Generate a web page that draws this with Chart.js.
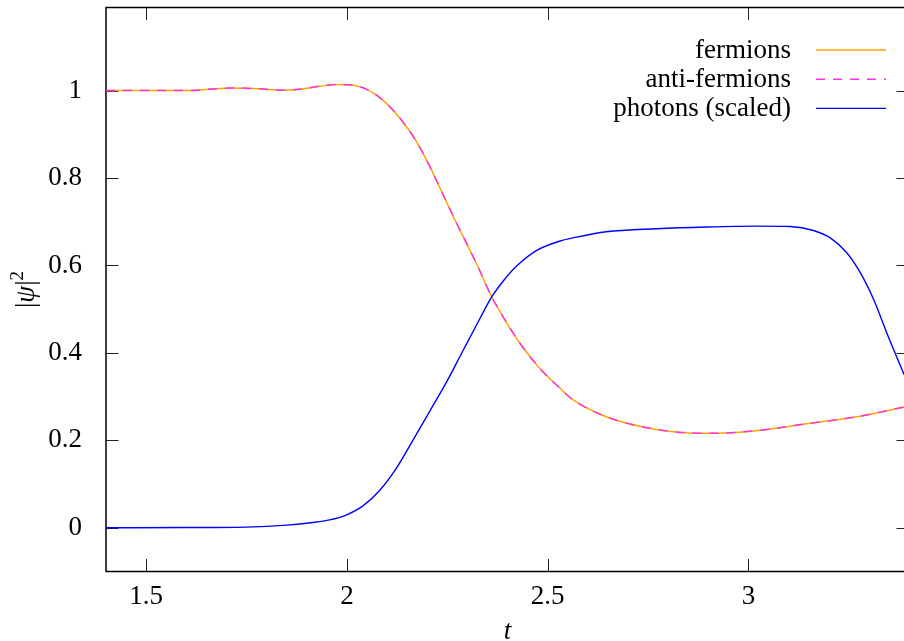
<!DOCTYPE html>
<html>
<head>
<meta charset="utf-8">
<script src="https://cdn.jsdelivr.net/npm/chart.js@4.4.1/dist/chart.umd.min.js"></script>
<style>
html, body { margin: 0; padding: 0; background: #fff; overflow: hidden; }
#wrap { width: 912px; height: 641px; }
</style>
</head>
<body>
<div id="wrap"><canvas id="chart_psi" width="912" height="641"></canvas></div>
<script>
// values
var tFermions = [1.40, 1.50, 1.61, 1.657, 1.715, 1.78, 1.84, 1.882, 1.932, 1.982, 2.032, 2.082, 2.131, 2.173, 2.206, 2.265, 2.306, 2.331, 2.358, 2.392, 2.431, 2.48, 2.531, 2.563, 2.646, 2.771, 2.896, 3.02, 3.145, 3.27, 3.388];
var fermions = [1.000, 1.000, 1.000, 1.003, 1.006, 1.004, 1.001, 1.003, 1.010, 1.014, 1.009, 0.984, 0.938, 0.884, 0.827, 0.712, 0.636, 0.588, 0.533, 0.478, 0.422, 0.365, 0.319, 0.293, 0.254, 0.225, 0.216, 0.222, 0.238, 0.254, 0.276];
var antiFermions = [1.000, 1.000, 1.000, 1.003, 1.006, 1.004, 1.001, 1.003, 1.010, 1.014, 1.009, 0.984, 0.938, 0.884, 0.827, 0.712, 0.636, 0.588, 0.533, 0.478, 0.422, 0.365, 0.319, 0.293, 0.254, 0.225, 0.216, 0.222, 0.238, 0.254, 0.276];

var tPhotons = [1.40, 1.60, 1.749, 1.85, 1.915, 1.957, 1.998, 2.04, 2.082, 2.123, 2.165, 2.206, 2.248, 2.289, 2.331, 2.36, 2.39, 2.422, 2.472, 2.531, 2.563, 2.646, 2.771, 2.896, 3.02, 3.104, 3.162, 3.204, 3.245, 3.279, 3.312, 3.345, 3.388];
var photons = [0.000, 0.0005, 0.0016, 0.006, 0.012, 0.018, 0.029, 0.050, 0.086, 0.136, 0.201, 0.266, 0.333, 0.405, 0.478, 0.527, 0.565, 0.598, 0.634, 0.656, 0.663, 0.677, 0.684, 0.688, 0.690, 0.689, 0.680, 0.663, 0.629, 0.583, 0.522, 0.445, 0.350];

var xTicks = [1.5, 2, 2.5, 3];
var yTicks = [0, 0.2, 0.4, 0.6, 0.8, 1];
var seriesLabels = ['fermions', 'anti-fermions', 'photons (scaled)'];

function pairs(xs, ys) {
    return xs.map(function (x, i) { return { x: x, y: ys[i] }; });
}

Chart.defaults.font.family = '"Liberation Serif", serif';
Chart.defaults.font.size = 27;
Chart.defaults.color = '#000';

// gnuplot-like frame with inward ticks, key and y label
var gnuplotFrame = {
    id: 'gnuplotFrame',
    beforeDatasetsDraw: function (chart) {
        var ctx = chart.ctx, a = chart.chartArea;
        var xs = chart.scales.x, ys = chart.scales.y;
        var len = 12.5;
        ctx.save();
        ctx.strokeStyle = '#222';
        ctx.lineWidth = 1;
        ctx.beginPath();
        xTicks.forEach(function (v) {
            var px = Math.round(xs.getPixelForValue(v)) + 0.5;
            ctx.moveTo(px, a.bottom); ctx.lineTo(px, a.bottom - len);
            ctx.moveTo(px, a.top); ctx.lineTo(px, a.top + len);
        });
        yTicks.forEach(function (v) {
            var py = Math.round(ys.getPixelForValue(v)) + 0.5;
            ctx.moveTo(a.left, py); ctx.lineTo(a.left + len, py);
            ctx.moveTo(a.right, py); ctx.lineTo(a.right - len, py);
        });
        ctx.stroke();
        ctx.strokeStyle = '#000';
        ctx.lineWidth = 1.5;
        ctx.strokeRect(a.left, a.top, a.right - a.left, a.bottom - a.top);
        ctx.restore();
    },
    afterDraw: function (chart) {
        var ctx = chart.ctx, a = chart.chartArea;
        ctx.save();
        // key
        ctx.font = '27px "Liberation Serif", serif';
        ctx.textAlign = 'right';
        ctx.textBaseline = 'alphabetic';
        chart.data.datasets.forEach(function (ds, i) {
            var y = 50 + i * 29.2;
            ctx.fillStyle = '#000';
            ctx.fillText(ds.label, 791, y + 8);
            ctx.beginPath();
            ctx.strokeStyle = ds.borderColor;
            ctx.lineWidth = ds.borderWidth;
            ctx.setLineDash(ds.borderDash || []);
            ctx.moveTo(816, y);
            ctx.lineTo(886, y);
            ctx.stroke();
            ctx.setLineDash([]);
        });
        // y axis label |psi|^2
        var parts = [
            { t: '|', f: '27px "Liberation Serif", serif', dy: 0 },
            { t: 'ψ', f: 'italic 27px "Liberation Serif", serif', dy: 0 },
            { t: '|', f: '27px "Liberation Serif", serif', dy: 0 },
            { t: '2', f: '19px "Liberation Serif", serif', dy: -11 }
        ];
        var total = 0;
        parts.forEach(function (p) { ctx.font = p.f; p.w = ctx.measureText(p.t).width; total += p.w; });
        ctx.translate(34, (a.top + a.bottom) / 2);
        ctx.rotate(-Math.PI / 2);
        ctx.textAlign = 'left';
        ctx.fillStyle = '#000';
        var x = -total / 2;
        parts.forEach(function (p) {
            ctx.font = p.f;
            ctx.fillText(p.t, x, p.dy);
            x += p.w;
        });
        ctx.restore();
    }
};

var chart_psi = new Chart(document.getElementById('chart_psi'), {
    type: 'line',
    data: {
        datasets: [
            {
                label: seriesLabels[0],
                data: pairs(tFermions, fermions),
                borderColor: '#ffa500',
                borderWidth: 1.5,
                order: 2
            },
            {
                label: seriesLabels[1],
                data: pairs(tFermions, antiFermions),
                borderColor: '#ff33dd',
                borderWidth: 1.5,
                borderDash: [9, 8],
                order: 1
            },
            {
                label: seriesLabels[2],
                data: pairs(tPhotons, photons),
                borderColor: '#0000ff',
                borderWidth: 1.4,
                order: 0
            }
        ]
    },
    options: {
        animation: false,
        responsive: false,
        devicePixelRatio: 1,
        elements: {
            point: { radius: 0 },
            line: { cubicInterpolationMode: 'monotone', fill: false }
        },
        layout: { padding: { top: 7.5, right: 3, left: 0, bottom: 0 } },
        plugins: {
            legend: { display: false },
            tooltip: { enabled: false },
            title: { display: false }
        },
        scales: {
            x: {
                type: 'linear',
                min: 1.4,
                max: 3.4,
                afterBuildTicks: function (scale) {
                    scale.ticks = xTicks.map(function (v) { return { value: v }; });
                },
                afterFit: function (scale) {
                    scale.height = 69.5;
                    scale.paddingLeft = 0;
                    scale.paddingRight = 0;
                },
                grid: { display: false, drawTicks: false, tickLength: 0 },
                border: { display: false },
                ticks: {
                    padding: 9, maxRotation: 0, autoSkip: false,
                    callback: function (v) { return String(v); }
                },
                title: {
                    display: true,
                    text: 't',
                    font: { size: 27, style: 'italic' },
                    padding: { top: 0, bottom: -7 }
                }
            },
            y: {
                type: 'linear',
                min: -0.1,
                max: 1.19,
                afterBuildTicks: function (scale) {
                    scale.ticks = yTicks.map(function (v) { return { value: v }; });
                },
                afterFit: function (scale) {
                    scale.width = 106;
                    scale.paddingTop = 0;
                    scale.paddingBottom = 0;
                },
                grid: { display: false, drawTicks: false, tickLength: 0 },
                border: { display: false },
                ticks: {
                    padding: 24, autoSkip: false,
                    callback: function (v) { return String(v); }
                }
            }
        }
    },
    plugins: [gnuplotFrame]
});
</script>
</body>
</html>
